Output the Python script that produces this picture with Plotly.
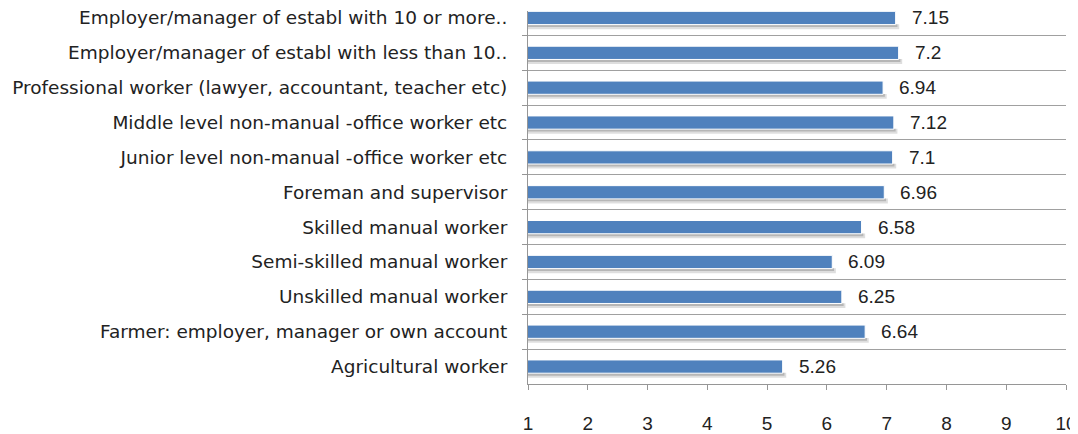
import plotly.graph_objects as go

categories = [
    "Employer/manager of establ with 10 or more..",
    "Employer/manager of establ with less than 10..",
    "Professional worker (lawyer, accountant, teacher etc)",
    "Middle level non-manual -office worker etc",
    "Junior level non-manual -office worker etc",
    "Foreman and supervisor",
    "Skilled manual worker",
    "Semi-skilled manual worker",
    "Unskilled manual worker",
    "Farmer: employer, manager or own account",
    "Agricultural worker",
]
values = [7.15, 7.2, 6.94, 7.12, 7.1, 6.96, 6.58, 6.09, 6.25, 6.64, 5.26]
value_labels = ["7.15", "7.2", "6.94", "7.12", "7.1", "6.96", "6.58", "6.09", "6.25", "6.64", "5.26"]
x_ticks = [1, 2, 3, 4, 5, 6, 7, 8, 9, 10]

FONT = "Liberation Sans, Arial, sans-serif"
CAT_FONT = "DejaVu Sans, Verdana, sans-serif"
FS = 19
BAR_W = 0.38

fig = go.Figure()
# soft shadow under bars
fig.add_trace(go.Bar(
    y=categories, x=[v + 0.06 for v in values], orientation="h",
    width=0.14, offset=BAR_W / 2 - 0.01,
    marker=dict(color="rgba(0,0,0,0.13)", line=dict(width=0)),
    hoverinfo="skip", showlegend=False,
))
fig.add_trace(go.Bar(
    y=categories, x=[v + 0.03 for v in values], orientation="h",
    width=0.08, offset=BAR_W / 2 - 0.01,
    marker=dict(color="rgba(0,0,0,0.18)", line=dict(width=0)),
    hoverinfo="skip", showlegend=False,
))
fig.add_trace(go.Bar(
    y=categories, x=values, orientation="h",
    width=BAR_W, offset=-BAR_W / 2,
    marker=dict(color="#4F81BD", line=dict(color="white", width=1)),
    showlegend=False,
))
for c, v, t in zip(categories, values, value_labels):
    fig.add_annotation(x=v, y=c, text=t, showarrow=False, xanchor="left",
                       xshift=14, font=dict(family=FONT, size=FS, color="#222"))

fig.update_layout(
    width=1070, height=426,
    margin=dict(l=520, r=12, t=0, b=45),
    paper_bgcolor="white", plot_bgcolor="white",
    barmode="overlay",
    font=dict(family=FONT, size=FS, color="#222"),
)
fig.update_xaxes(
    range=[1, 10], tickvals=x_ticks, showgrid=False, zeroline=False,
    showline=True, linecolor="#969696", linewidth=1,
    ticks="outside", ticklen=5, tickcolor="#969696",
    ticklabelstandoff=17,
    tickfont=dict(family=FONT, size=FS, color="#222"),
)
fig.update_yaxes(
    type="category", categoryarray=categories,
    range=[10.5, -0.20], tickson="boundaries",
    showgrid=True, gridcolor="#a0a0a0", gridwidth=1,
    showline=True, linecolor="#969696", linewidth=1,
    ticks="outside", ticklen=5, tickcolor="#969696",
    ticklabelstandoff=16,
    tickfont=dict(family=CAT_FONT, size=18.5, color="#222"),
)

fig.write_html("out.html")
